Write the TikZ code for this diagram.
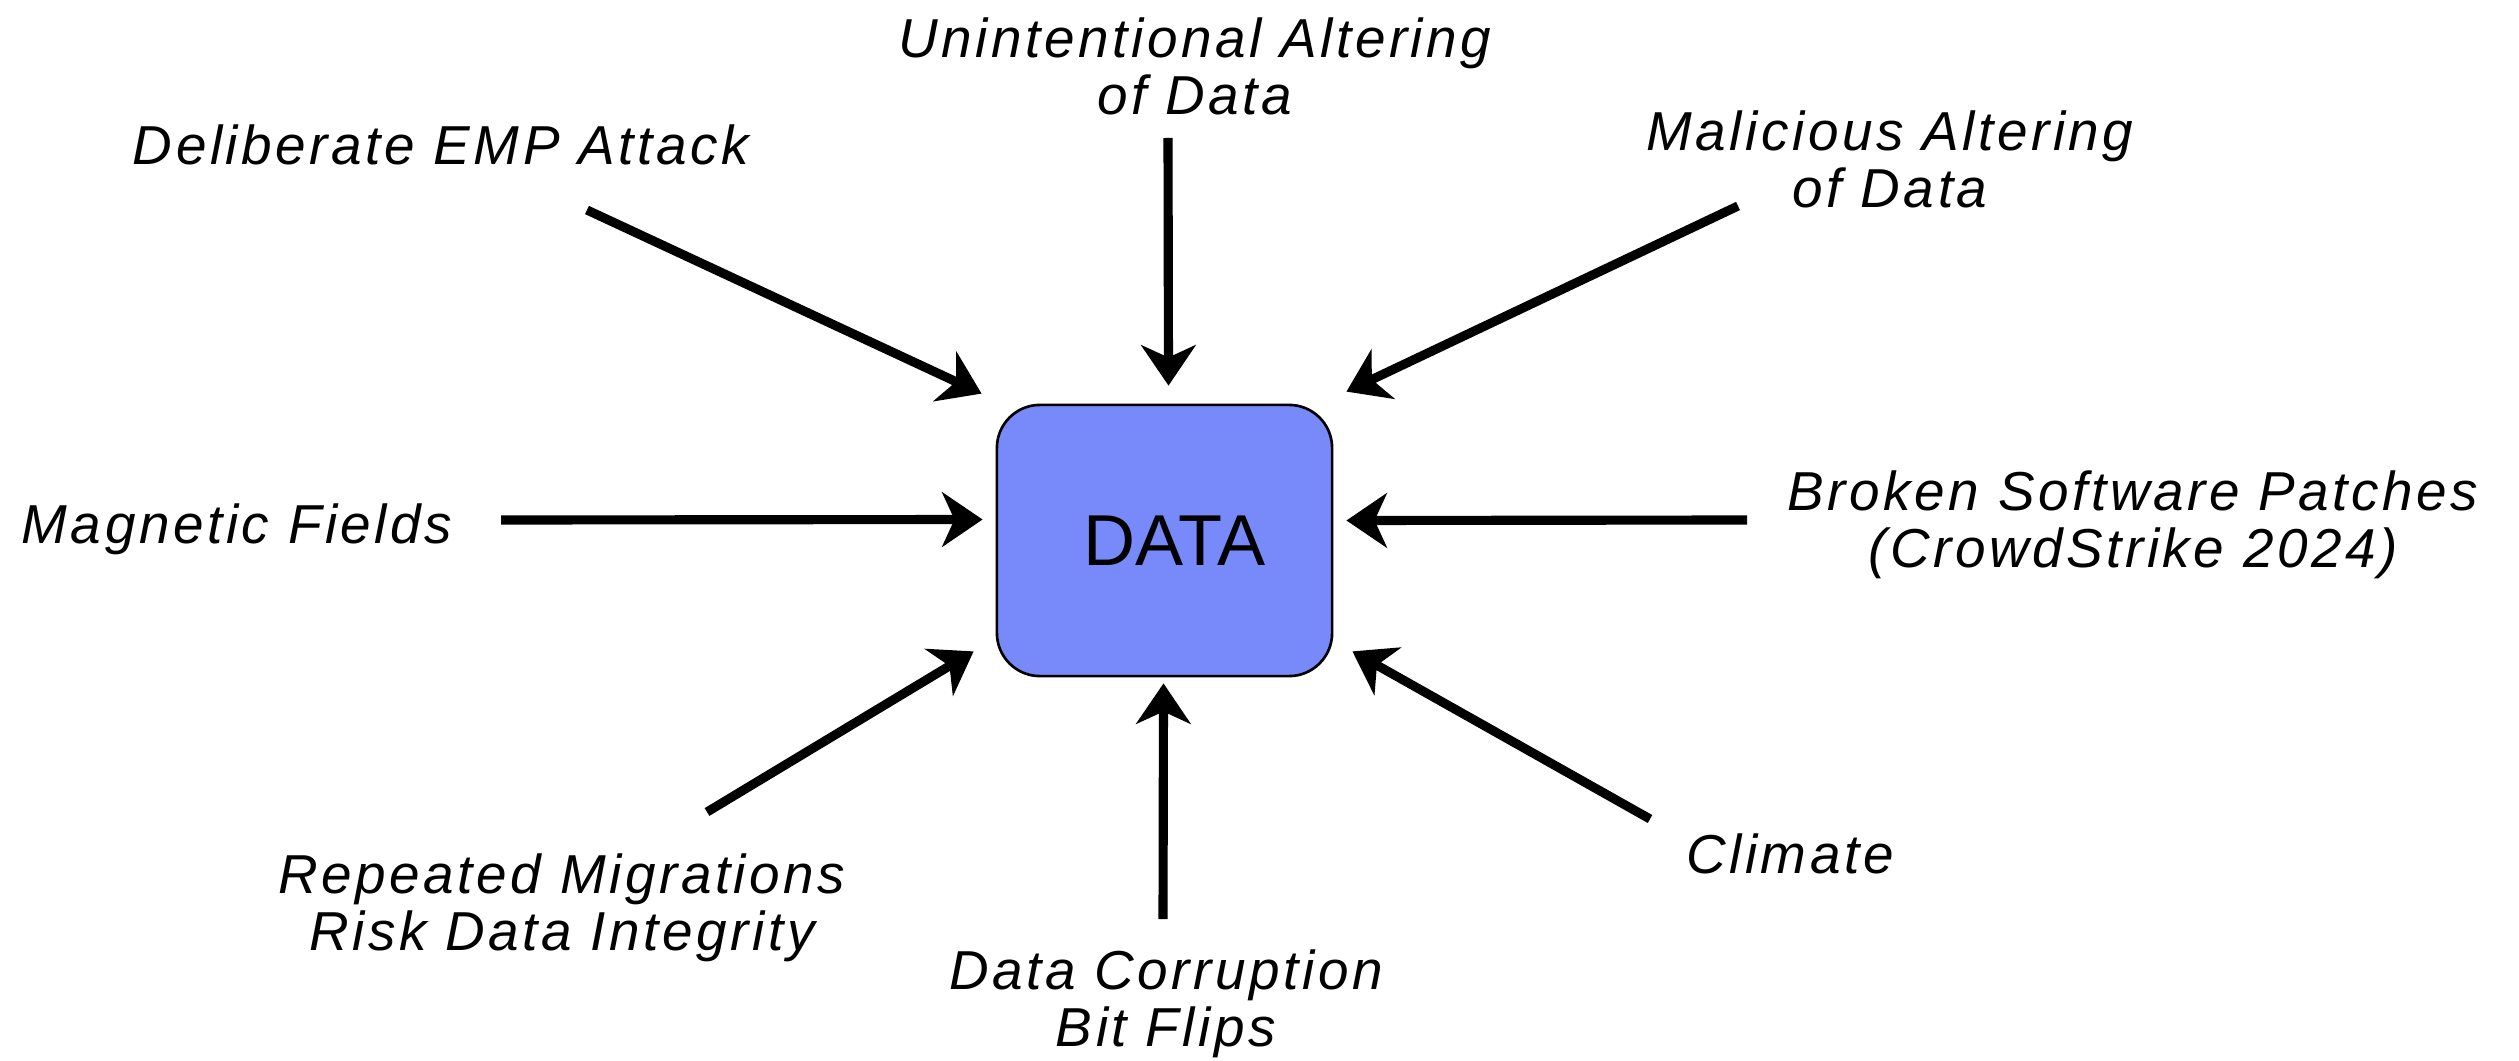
\documentclass[tikz,border=0pt]{standalone}
\usepackage{fontspec}
\setmainfont{Liberation Sans}
\newfontfamily\causefont[LetterSpace=6.5]{Liberation Sans}
\usetikzlibrary{arrows.meta}
\definecolor{datafill}{RGB}{120,137,249}
\tikzset{
  cause/.style={font={\causefont\itshape\fontsize{15.6pt}{16.2pt}\selectfont}, align=center, inner sep=0pt},
  hit/.style={line width=2.6pt, -{Stealth[length=11.5pt,width=15.5pt,inset=3.5pt]}},
}
\begin{document}
\begin{tikzpicture}[x=0.01cm,y=-0.01cm]
    \useasboundingbox (0,0) rectangle (2519,1061);
    \node[draw, line width=0.75pt, fill=datafill, rounded corners=0.43cm, minimum width=3.35cm, minimum height=2.71cm, font=\fontsize{20.5pt}{24pt}\selectfont] (data) at (1164.5,540.5) {\hspace*{0.2cm}DATA};
    \node[cause] (emp) at (441,145) {Deliberate EMP Attack};
    \node[cause] (unint) at (1195,66) {Unintentional Altering\\of Data};
    \node[cause] (malic) at (1890,159) {Malicious Altering\\of Data};
    \node[cause] (magnet) at (237,529) {Magnetic Fields};
    \node[cause] (broken) at (2133,525) {Broken Software Patches\\(CrowdStrike 2024)};
    \node[cause] (migrate) at (562,908) {Repeated Migrations\\Risk Data Integrity};
    \node[cause] (corrupt) at (1166,1004) {Data Corruption\\Bit Flips};
    \node[cause] (climate) at (1790,854) {Climate};
    \coordinate (emp-tail) at (587,210);
    \coordinate (unint-tail) at (1168,138);
    \coordinate (malic-tail) at (1738,206);
    \coordinate (magnet-tail) at (501,520);
    \coordinate (broken-tail) at (1747,520);
    \coordinate (migrate-tail) at (707,812);
    \coordinate (corrupt-tail) at (1163,919);
    \coordinate (climate-tail) at (1650,819);
    \draw[hit] (emp-tail) -- ([shift={(-14,-10)}]data.north west);
    \draw[hit] (unint-tail) -- ([shift={(4,-18)}]data.north);
    \draw[hit] (malic-tail) -- ([shift={(13,-12)}]data.north east);
    \draw[hit] (magnet-tail) -- ([shift={(-13,-21)}]data.west);
    \draw[hit] (broken-tail) -- ([shift={(13,-20)}]data.east);
    \draw[hit] (migrate-tail) -- ([shift={(-22,-26)}]data.south west);
    \draw[hit] (corrupt-tail) -- ([shift={(-1,6)}]data.south);
    \draw[hit] (climate-tail) -- ([shift={(19,-26)}]data.south east);
\end{tikzpicture}
\end{document}
